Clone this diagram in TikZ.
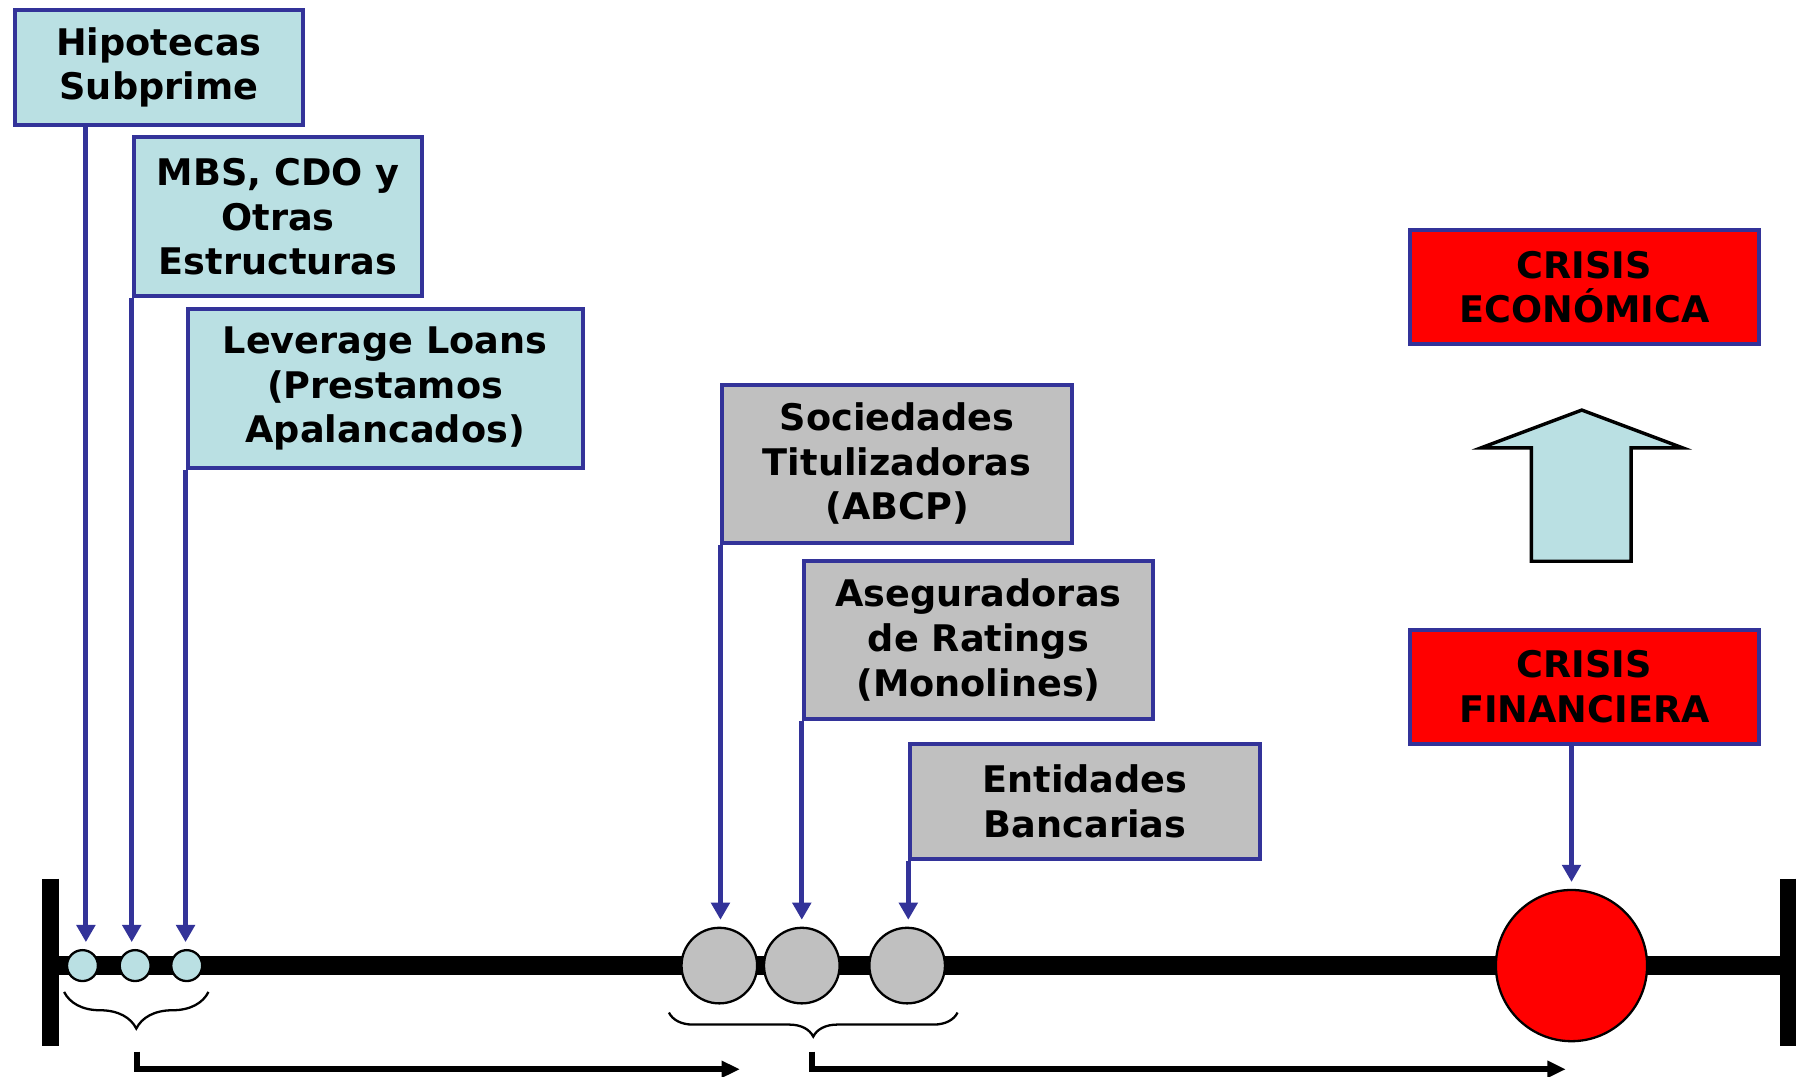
\documentclass[tikz,border=0pt]{standalone}
\usepackage{fontspec}
\setmainfont{DejaVu Sans}
\usetikzlibrary{arrows.meta,positioning,decorations.pathreplacing}

\definecolor{boxblue}{HTML}{333399}
\definecolor{lightcyan}{HTML}{BAE0E3}
\definecolor{boxgray}{HTML}{C0C0C0}
\definecolor{crisisred}{HTML}{FF0000}

\tikzset{
  label box/.style={draw=boxblue, line width=3.5pt, align=center, inner sep=0pt,
    anchor=north west, font=\fontsize{32}{39}\selectfont\bfseries},
  early/.style={label box, fill=lightcyan},
  agent/.style={label box, fill=boxgray, minimum width=305pt},
  crisis/.style={label box, fill=crisisred, minimum width=305pt, minimum height=100pt},
  event/.style={circle, draw=black, line width=2pt, inner sep=0pt},
  pointer/.style={draw=boxblue, line width=4.5pt, -{Triangle[length=15pt,width=16pt]}, shorten >=6pt},
  period/.style={line width=5pt, line join=miter, -{Triangle[length=16pt,width=14pt]}},
  group/.style={decorate, line width=2pt},
}

\begin{document}
\begin{tikzpicture}[x=1pt,y=-1pt]
\useasboundingbox (0,0) rectangle (1568,940);

% timeline
\coordinate (tl) at (44,843);
\coordinate (tr) at (1561,843);
\draw[line width=16pt] (tl) -- (tr);
\draw[line width=15pt] ([yshift=76pt]tl) -- ([yshift=-70pt]tl);
\draw[line width=14pt] ([yshift=76pt]tr) -- ([yshift=-70pt]tr);

% events
\node[event, fill=lightcyan, minimum size=27pt] (d1) at (72,843) {};
\node[event, fill=lightcyan, minimum size=27pt] (d2) [right=17pt of d1] {};
\node[event, fill=lightcyan, minimum size=27pt] (d3) [right=16pt of d2] {};
\node[event, fill=boxgray, minimum size=66pt] (g1) at (628,843) {};
\node[event, fill=boxgray, minimum size=66pt] (g2) [right=4pt of g1] {};
\node[event, fill=boxgray, minimum size=66pt] (g3) [right=24pt of g2] {};
\node[event, fill=crisisred, minimum size=132pt] (red) at (1372,843) {};

% boxes
\node[early, minimum width=252pt, minimum height=100pt] (hip) at (11,7) {Hipotecas\\Subprime};
\node[early, minimum width=252pt, minimum height=139pt] (mbs) at (115,118) {MBS, CDO y\\Otras\\Estructuras};
\node[early, minimum width=345pt, minimum height=139pt] (lev) at (162,268) {Leverage Loans\\(Prestamos\\Apalancados)};
\node[agent, minimum height=138pt] (soc) at (629,334) {Sociedades\\Titulizadoras\\(ABCP)};
\node[agent, minimum height=138pt] (ase) at (700,488) {Aseguradoras\\de Ratings\\(Monolines)};
\node[agent, minimum height=100pt] (ent) at (793,648) {Entidades\\Bancarias};
\node[crisis] (eco) at (1229,199) {CRISIS\\ECONÓMICA};
\node[crisis] (fin) at (1229,548) {CRISIS\\FINANCIERA};

% up arrow
\draw[fill=lightcyan, line width=3pt, line join=miter]
  (1381,358) -- (1469,391) -- (1424,391) -- (1424,490) -- (1337,490)
  -- (1337,391) -- (1293,391) -- cycle;

% pointers
\draw[pointer] ([xshift=3pt]hip.south -| d1) -- ([xshift=3pt]d1.north);
\draw[pointer] (mbs.south west) -- (mbs.south west |- d2.north);
\draw[pointer] (lev.south west) -- (lev.south west |- d3.north);
\draw[pointer] (soc.south west) -- (soc.south west |- g1.north);
\draw[pointer] (ase.south west) -- (ase.south west |- g2.north);
\draw[pointer] (ent.south west) -- (ent.south west |- g3.north);
\draw[pointer] (fin.south -| red) -- (red.north);

% braces
\draw[group, decoration={brace, mirror, amplitude=32pt}] (56,866) -- (182,866);
\draw[group, decoration={brace, mirror, amplitude=21pt}] (584,884) -- (836,884);

% periods
\coordinate (p1) at (119.5,918);
\coordinate (q1) at (646,933.5);
\coordinate (p2) at (709,918);
\coordinate (q2) at (1367,933.5);
\draw[period] (p1) |- (q1);
\draw[period] (p2) |- (q2);
\end{tikzpicture}
\end{document}
